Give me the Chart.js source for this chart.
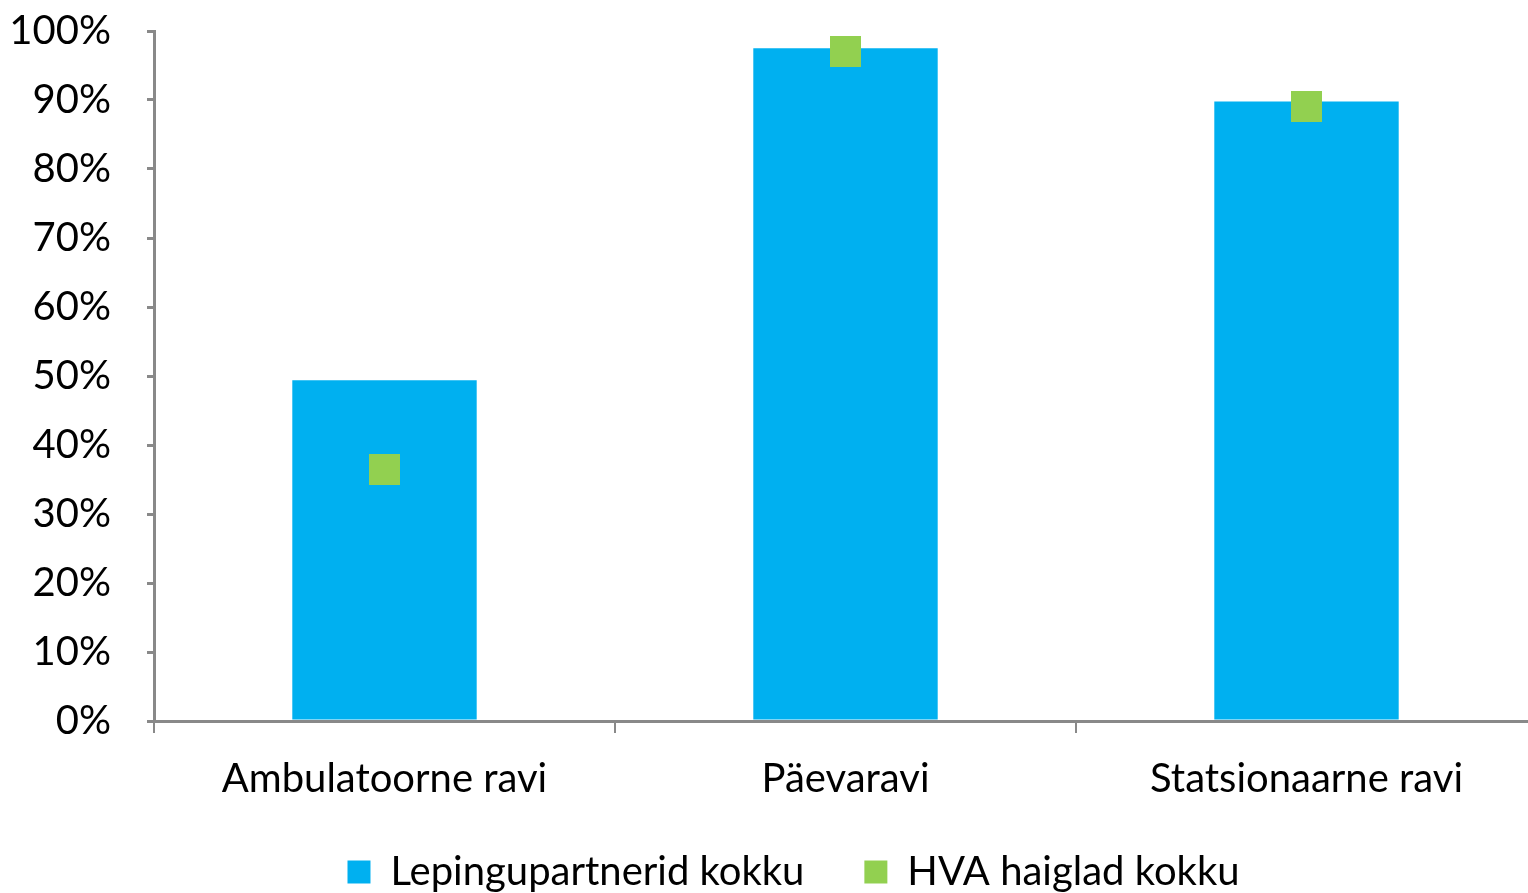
<!DOCTYPE html>
<html>
<head>
<meta charset="utf-8">
<script src="https://cdn.jsdelivr.net/npm/chart.js@4.4.1/dist/chart.umd.min.js"></script>
<style>
  html, body { margin: 0; padding: 0; background: #fff; overflow: hidden; }
  canvas { display: block; }
</style>
</head>
<body>
<canvas id="chart" width="1540" height="893"></canvas>
<script>
/* ── Data ── */
const categories   = ["Ambulatoorne ravi", "Päevaravi", "Statsionaarne ravi"];
const partnerVals  = [49.4, 97.5, 89.8];
const hospitalVals = [36.5, 97.0, 89.0];
const yTicks       = [0, 10, 20, 30, 40, 50, 60, 70, 80, 90, 100];

const BLUE  = "#00B0F0";
const GREEN = "#92D050";
const AXIS  = "#898989";
const FONT  = "Lato";
const FSIZE = 40;

/* square marker as a small canvas, so the point radius doesn't pad the layout */
const marker = document.createElement("canvas");
marker.width = marker.height = 31;
const mctx = marker.getContext("2d");
mctx.fillStyle = GREEN;
mctx.fillRect(0, 0, 31, 31);

/* nudge the legend a bit right, like the original */
const legendShift = {
  id: "legendShift",
  afterLayout(chart) {
    chart.legend.left  += 25;
    chart.legend.right += 25;
  }
};

const ctx = document.getElementById("chart").getContext("2d");
new Chart(ctx, {
  data: {
    labels: categories,
    datasets: [
      {
        type: "line",
        label: "HVA haiglad kokku",
        data: hospitalVals,
        showLine: false,
        pointStyle: marker,
        pointRadius: 1,
        pointHoverRadius: 1,
        pointBorderWidth: 0,
        backgroundColor: GREEN,
        borderColor: GREEN,
        borderWidth: 0,
        order: 0,
      },
      {
        type: "bar",
        label: "Lepingupartnerid kokku",
        data: partnerVals,
        backgroundColor: BLUE,
        borderWidth: 0,
        categoryPercentage: 1,
        barPercentage: 0.4,
        order: 1,
      },
    ]
  },
  plugins: [legendShift],
  options: {
    responsive: false,
    animation: false,
    layout: { padding: { top: 31, left: 0, right: 3, bottom: -9 } },
    plugins: {
      tooltip: { enabled: false },
      legend: {
        position: "bottom",
        labels: {
          color: "#000",
          font: { family: FONT, size: FSIZE },
          boxWidth: 23,
          boxHeight: 23,
          padding: 60,
          generateLabels: chart => chart.data.datasets.map((ds, i) => ({
            text: ds.label,
            fillStyle: ds.backgroundColor,
            strokeStyle: ds.backgroundColor,
            lineWidth: 0,
            datasetIndex: i,
          })).reverse(),
        }
      }
    },
    scales: {
      x: {
        offset: true,
        grid: {
          offset: true,
          drawOnChartArea: false,
          tickLength: 12,
          color: AXIS,
          lineWidth: 2,
        },
        border: { color: AXIS, width: 3 },
        ticks: { color: "#000", font: { family: FONT, size: FSIZE }, padding: 22 },
        afterFit: s => { s.height = 71; s.paddingLeft = 0; s.paddingRight = 0; },
      },
      y: {
        min: 0,
        max: 100,
        afterBuildTicks: s => { s.ticks = yTicks.map(v => ({ value: v })); },
        grid: {
          drawOnChartArea: false,
          tickLength: 7,
          color: AXIS,
          lineWidth: 3,
        },
        border: { color: AXIS, width: 3 },
        ticks: {
          color: "#000",
          font: { family: FONT, size: FSIZE },
          padding: 36,
          callback: v => v + "%",
        },
        afterFit: s => { s.width = 154; s.paddingTop = 0; s.paddingBottom = 0; },
      }
    }
  }
});
</script>
</body>
</html>
